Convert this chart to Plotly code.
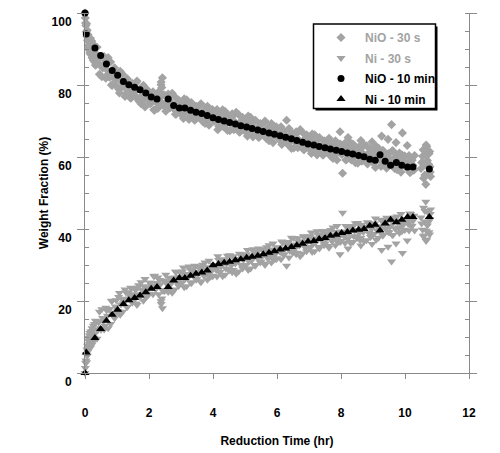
import plotly.graph_objects as go

# ---------------- data ----------------
# 30-s sampling (grey), part A: time (hr)
t30 = [
    0.00, 0.01, 0.02, 0.03, 0.04, 0.06, 0.08, 0.10, 0.12, 0.14,
    0.16, 0.18, 0.20, 0.22, 0.24, 0.26, 0.28, 0.30, 0.35, 0.40,
    0.45, 0.50, 0.55, 0.60, 0.65, 0.70, 0.75, 0.80, 0.85, 0.90,
    0.95, 1.00, 1.05, 1.10, 1.15, 1.20, 1.25, 1.30, 1.35, 1.40,
    1.45, 1.50, 1.55, 1.60, 1.65, 1.70, 1.75, 1.80, 1.85, 1.90,
    1.95, 2.00, 2.05, 2.10, 2.15, 2.20, 2.25, 2.30, 2.35, 2.38,
    2.40, 2.42, 2.45, 2.50, 2.55, 2.60, 2.65, 2.70, 2.75, 2.80,
    2.85, 2.90, 2.95, 3.00, 3.05, 3.10, 3.15, 3.20, 3.25, 3.30,
    3.35, 3.40, 3.45, 3.50, 3.55, 3.60, 3.65, 3.70, 3.75, 3.80,
    3.85, 3.90, 3.95, 4.00, 4.05, 4.10, 4.15, 4.20, 4.25, 4.30,
    4.35, 4.40, 4.45, 4.50, 4.55, 4.60, 4.65, 4.70, 4.75, 4.80,
    4.85, 4.90, 4.95, 5.00, 5.05, 5.10, 5.15, 5.20, 5.25, 5.30,
    5.35, 5.40, 5.45, 5.50, 5.55, 5.60, 5.65, 5.70, 5.75, 5.80,
    5.85, 5.90, 5.95, 6.00, 6.05, 6.10, 6.15, 6.20, 6.25, 6.30,
    6.35, 6.40, 6.45, 6.50, 6.55, 6.60, 6.65, 6.70, 6.75, 6.80,
    6.85, 6.90, 6.95, 7.00, 7.05, 7.10, 7.15, 7.20, 7.25, 7.30,
    7.35, 7.40, 7.45, 7.50, 7.55, 7.60, 7.65, 7.70, 7.75, 7.80,
    7.85, 7.90, 7.95, 7.97, 8.00, 8.05, 8.10, 8.15, 8.20, 8.22,
    8.25, 8.30, 8.35, 8.40, 8.45, 8.50, 8.55, 8.60, 8.62, 8.65,
    8.70, 8.75, 8.80, 8.85, 8.90, 8.95, 8.97, 9.00, 9.05, 9.10,
    9.15, 9.20, 9.25, 9.27, 9.30, 9.35, 9.40, 9.45, 9.47, 9.50,
    9.55, 9.58, 9.60, 9.65, 9.70, 9.72, 9.75, 9.80, 9.85, 9.90,
    9.92, 9.95, 10.00, 10.05, 10.07, 10.10, 10.15, 10.20, 10.25, 10.30,
    10.50, 10.55, 10.58, 10.60, 10.63, 10.65, 10.66, 10.68, 10.70, 10.72,
    10.75, 10.78, 10.80,
]
nio_30s = [
    100.0, 98.6, 97.2, 96.5, 94.8, 93.5, 92.4, 91.0, 93.2, 89.6,
    91.8, 88.5, 90.9, 87.6, 89.8, 86.9, 90.2, 86.4, 85.7, 88.1,
    83.0, 88.0, 84.7, 87.9, 81.9, 84.1, 82.3, 86.4, 79.9, 83.7,
    81.5, 83.2, 78.9, 83.8, 79.4, 80.6, 76.8, 81.6, 77.7, 79.3,
    76.5, 80.1, 78.1, 80.7, 76.3, 78.8, 74.8, 78.1, 75.9, 79.0,
    76.4, 78.0, 74.9, 76.1, 73.1, 76.6, 75.0, 78.1, 75.4, 80.8,
    79.3, 82.0, 74.3, 77.0, 74.6, 77.5, 73.6, 75.1, 73.6, 76.8,
    71.9, 74.9, 73.3, 74.8, 71.8, 76.2, 72.5, 73.7, 70.4, 74.8,
    71.4, 72.9, 70.4, 73.8, 72.0, 74.5, 70.5, 72.8, 69.3, 72.4,
    70.6, 73.4, 71.2, 73.0, 70.0, 71.4, 67.6, 72.0, 70.4, 73.1,
    68.8, 71.0, 67.4, 71.5, 69.3, 72.0, 67.6, 69.6, 68.4, 71.8,
    67.0, 70.0, 68.5, 70.0, 67.0, 71.4, 67.6, 68.8, 65.6, 70.0,
    66.6, 68.1, 65.6, 69.0, 67.2, 69.6, 65.7, 68.0, 64.5, 67.5,
    65.7, 68.6, 66.3, 68.1, 65.1, 66.4, 63.5, 67.1, 65.5, 70.2,
    63.8, 66.1, 62.4, 66.5, 64.3, 67.0, 62.6, 64.6, 63.4, 66.8,
    62.0, 65.0, 63.5, 65.0, 62.0, 66.4, 62.6, 63.8, 60.6, 65.0,
    61.6, 63.1, 60.6, 64.0, 62.2, 64.7, 60.8, 63.1, 59.6, 62.6,
    60.8, 63.7, 61.5, 67.0, 63.3, 55.5, 62.0, 59.2, 62.8, 65.4,
    61.2, 63.9, 59.6, 62.0, 58.4, 62.5, 60.3, 63.1, 64.6, 58.8,
    60.8, 59.7, 63.1, 58.3, 61.4, 60.0, 64.2, 61.5, 58.5, 63.0,
    59.3, 60.5, 57.4, 65.8, 61.8, 58.4, 60.0, 57.6, 64.9, 61.0,
    59.2, 69.0, 61.7, 57.7, 60.0, 64.0, 56.5, 59.6, 57.8, 60.6,
    66.7, 58.4, 60.2, 57.2, 63.2, 58.6, 55.7, 59.3, 57.7, 60.4,
    56.8, 60.2, 54.1, 61.8, 57.9, 52.4, 63.3, 62.9, 59.0, 55.4,
    60.9, 57.3, 54.6,
]
ni_30s = [
    0.0, 1.4, 2.8, 3.5, 5.2, 6.5, 7.6, 9.0, 6.8, 10.4,
    8.2, 11.5, 9.1, 12.4, 10.2, 13.1, 9.8, 13.6, 14.3, 11.9,
    17.0, 12.0, 15.3, 12.1, 18.1, 15.9, 17.7, 13.6, 20.1, 16.3,
    18.5, 16.8, 21.1, 16.2, 20.6, 19.4, 23.2, 18.4, 22.3, 20.7,
    23.5, 19.9, 21.9, 19.3, 23.7, 21.2, 25.2, 21.9, 24.1, 21.0,
    23.6, 22.0, 25.1, 23.9, 26.9, 23.4, 25.0, 21.9, 24.6, 19.2,
    20.7, 18.0, 25.7, 23.0, 25.4, 22.5, 26.4, 24.9, 26.4, 23.2,
    28.1, 25.1, 26.7, 25.2, 28.2, 23.8, 27.5, 26.3, 29.6, 25.2,
    28.6, 27.1, 29.6, 26.2, 28.0, 25.5, 29.5, 27.2, 30.7, 27.6,
    29.4, 26.6, 28.8, 27.0, 30.0, 28.6, 32.4, 28.0, 29.6, 26.9,
    31.2, 29.0, 32.6, 28.5, 30.7, 28.0, 32.4, 30.4, 31.6, 28.2,
    33.0, 30.0, 31.5, 30.0, 33.0, 28.6, 32.4, 31.2, 34.4, 30.0,
    33.4, 31.9, 34.4, 31.0, 32.8, 30.4, 34.3, 32.0, 35.5, 32.5,
    34.3, 31.4, 33.7, 31.9, 34.9, 33.6, 36.5, 32.9, 34.5, 29.8,
    36.2, 33.9, 37.6, 33.5, 35.7, 33.0, 37.4, 35.4, 36.6, 33.2,
    38.0, 35.0, 36.5, 35.0, 38.0, 33.6, 37.4, 36.2, 39.4, 35.0,
    38.4, 36.9, 39.4, 36.0, 37.8, 35.3, 39.2, 36.9, 40.4, 37.4,
    39.2, 36.3, 38.5, 33.0, 36.7, 44.5, 38.0, 40.8, 37.2, 34.6,
    38.8, 36.1, 40.4, 38.0, 41.6, 37.5, 39.7, 36.9, 35.4, 41.2,
    39.2, 40.3, 36.9, 41.7, 38.6, 40.0, 35.8, 38.5, 41.5, 37.0,
    40.7, 39.5, 42.6, 34.2, 38.2, 41.6, 40.0, 42.4, 35.1, 39.0,
    40.8, 31.0, 38.3, 42.3, 40.0, 36.0, 43.5, 40.4, 42.2, 39.4,
    33.3, 41.6, 39.8, 42.8, 36.8, 41.4, 44.3, 40.7, 42.3, 39.6,
    43.2, 39.8, 45.9, 38.2, 42.1, 47.6, 36.7, 37.1, 41.0, 44.6,
    39.1, 42.7, 45.4,
]

# 30-s sampling (grey), part B (in-between readings): time (hr)
t30b = [
    0.05, 0.07, 0.09, 0.11, 0.13, 0.15, 0.17, 0.19, 0.21, 0.23,
    0.25, 0.27, 0.29, 0.325, 0.375, 0.425, 0.475, 0.525, 0.575, 0.625,
    0.675, 0.725, 0.775, 0.825, 0.875, 0.925, 0.975, 1.025, 1.075, 1.125,
    1.175, 1.225, 1.275, 1.325, 1.375, 1.425, 1.475, 1.525, 1.575, 1.625,
    1.675, 1.725, 1.775, 1.825, 1.875, 1.925, 1.975, 2.025, 2.075, 2.125,
    2.175, 2.225, 2.275, 2.325, 2.375, 2.425, 2.475, 2.525, 2.575, 2.625,
    2.675, 2.725, 2.775, 2.825, 2.875, 2.925, 2.975, 3.025, 3.075, 3.125,
    3.175, 3.225, 3.275, 3.325, 3.375, 3.425, 3.475, 3.525, 3.575, 3.625,
    3.675, 3.725, 3.775, 3.825, 3.875, 3.925, 3.975, 4.025, 4.075, 4.125,
    4.175, 4.225, 4.275, 4.325, 4.375, 4.425, 4.475, 4.525, 4.575, 4.625,
    4.675, 4.725, 4.775, 4.825, 4.875, 4.925, 4.975, 5.025, 5.075, 5.125,
    5.175, 5.225, 5.275, 5.325, 5.375, 5.425, 5.475, 5.525, 5.575, 5.625,
    5.675, 5.725, 5.775, 5.825, 5.875, 5.925, 5.975, 6.025, 6.075, 6.125,
    6.175, 6.225, 6.275, 6.325, 6.375, 6.425, 6.475, 6.525, 6.575, 6.625,
    6.675, 6.725, 6.775, 6.825, 6.875, 6.925, 6.975, 7.025, 7.075, 7.125,
    7.175, 7.225, 7.275, 7.325, 7.375, 7.425, 7.475, 7.525, 7.575, 7.625,
    7.675, 7.725, 7.775, 7.825, 7.875, 7.925, 7.975, 8.025, 8.075, 8.125,
    8.175, 8.225, 8.275, 8.325, 8.375, 8.425, 8.475, 8.525, 8.575, 8.625,
    8.675, 8.725, 8.775, 8.825, 8.875, 8.925, 8.975, 9.025, 9.075, 9.125,
    9.175, 9.225, 9.275, 9.325, 9.375, 9.425, 9.475, 9.525, 9.575, 9.625,
    9.675, 9.725, 9.775, 9.825, 9.875, 9.925, 9.975, 10.025, 10.075, 10.125,
    10.175, 10.225, 10.275, 10.52, 10.57, 10.62, 10.67, 10.74, 10.77, 10.79,
]
nio_30s_b = [
    97.0, 95.2, 94.0, 90.2, 92.0, 88.9, 93.0, 89.5, 92.2, 88.3,
    91.4, 88.0, 89.2, 85.5, 90.5, 86.0, 87.6, 82.3, 85.6, 86.9,
    82.6, 87.6, 82.2, 80.0, 83.6, 84.8, 79.8, 82.8, 77.8, 81.0,
    83.0, 79.5, 77.6, 81.7, 78.3, 76.3, 80.5, 78.7, 76.9, 81.1,
    75.6, 78.8, 76.9, 79.9, 73.9, 77.3, 78.4, 74.9, 75.6, 78.1,
    73.0, 76.5, 73.5, 74.2, 80.1, 77.1, 77.3, 72.7, 75.5, 77.1,
    74.1, 77.7, 73.5, 71.9, 74.8, 75.8, 72.1, 75.0, 70.7, 73.9,
    75.9, 72.8, 71.2, 75.1, 72.0, 70.2, 74.1, 72.5, 70.9, 74.8,
    69.9, 72.9, 71.2, 74.1, 68.8, 72.0, 73.2, 70.0, 70.8, 73.2,
    68.6, 71.9, 68.9, 68.4, 72.7, 69.6, 71.2, 67.3, 70.1, 71.4,
    68.4, 72.4, 68.4, 66.9, 69.9, 71.0, 67.4, 70.1, 65.8, 69.0,
    71.0, 68.0, 66.3, 70.2, 67.2, 65.4, 69.3, 67.7, 66.1, 70.0,
    65.1, 68.1, 66.4, 69.3, 64.0, 67.2, 68.4, 65.2, 66.0, 68.4,
    63.8, 67.1, 64.1, 63.6, 67.9, 64.8, 66.4, 62.5, 65.3, 66.6,
    63.6, 67.6, 63.6, 62.1, 65.1, 66.2, 62.6, 65.3, 61.0, 64.2,
    66.2, 63.2, 61.5, 65.4, 62.4, 60.6, 64.5, 62.9, 61.3, 65.2,
    60.3, 63.3, 61.6, 64.5, 59.2, 62.4, 63.6, 60.7, 61.5, 63.9,
    59.3, 62.6, 59.7, 59.2, 63.6, 60.5, 62.1, 58.3, 61.1, 62.4,
    59.4, 63.4, 59.6, 58.1, 61.1, 62.2, 58.6, 61.4, 57.1, 60.4,
    62.4, 59.4, 57.8, 61.7, 58.7, 56.9, 60.8, 59.4, 57.8, 61.7,
    56.8, 59.8, 58.2, 61.1, 55.8, 59.1, 60.3, 57.2, 58.0, 60.4,
    55.8, 59.1, 56.3, 58.5, 62.0, 55.0, 60.5, 58.0, 61.5, 55.8,
]
ni_30s_b = [
    3.0, 4.8, 6.0, 9.8, 8.0, 11.1, 7.0, 10.5, 7.8, 11.7,
    8.6, 12.0, 10.8, 14.5, 9.5, 14.0, 12.4, 17.7, 14.4, 13.1,
    17.4, 12.4, 17.8, 20.0, 16.4, 15.2, 20.2, 17.2, 22.2, 19.0,
    17.0, 20.5, 22.4, 18.3, 21.7, 23.7, 19.5, 21.3, 23.1, 18.9,
    24.4, 21.2, 23.1, 20.1, 26.1, 22.7, 21.6, 25.1, 24.4, 21.9,
    27.0, 23.5, 26.5, 25.8, 19.9, 22.9, 22.7, 27.3, 24.5, 22.9,
    25.9, 22.3, 26.5, 28.1, 25.2, 24.2, 27.9, 25.0, 29.3, 26.1,
    24.1, 27.2, 28.8, 24.9, 28.0, 29.8, 25.9, 27.5, 29.1, 25.2,
    30.1, 27.1, 28.8, 25.9, 31.2, 28.0, 26.8, 30.0, 29.2, 26.8,
    31.4, 28.1, 31.1, 31.6, 27.3, 30.4, 28.8, 32.7, 29.9, 28.6,
    31.6, 27.6, 31.6, 33.1, 30.1, 29.0, 32.6, 29.9, 34.2, 31.0,
    29.0, 32.0, 33.7, 29.8, 32.8, 34.6, 30.7, 32.3, 33.9, 30.0,
    34.9, 31.9, 33.6, 30.7, 36.0, 32.8, 31.6, 34.8, 34.0, 31.6,
    36.2, 32.9, 35.9, 36.4, 32.1, 35.2, 33.6, 37.5, 34.7, 33.4,
    36.4, 32.4, 36.4, 37.9, 34.9, 33.8, 37.4, 34.7, 39.0, 35.8,
    33.8, 36.8, 38.5, 34.6, 37.6, 39.4, 35.5, 37.1, 38.7, 34.8,
    39.7, 36.7, 38.4, 35.5, 40.8, 37.6, 36.4, 39.3, 38.5, 36.1,
    40.7, 37.4, 40.3, 40.8, 36.4, 39.5, 37.9, 41.7, 38.9, 37.6,
    40.6, 36.6, 40.4, 41.9, 38.9, 37.8, 41.4, 38.6, 42.9, 39.6,
    37.6, 40.6, 42.2, 38.3, 41.3, 43.1, 39.2, 40.6, 42.2, 38.3,
    43.2, 40.2, 41.8, 38.9, 44.2, 40.9, 39.7, 42.8, 42.0, 39.6,
    44.2, 40.9, 43.7, 41.5, 38.0, 45.0, 39.5, 42.0, 38.5, 44.2,
]

# 10-min sampling (black): time (hr)
t10 = [
    0.0, 0.04, 0.31, 0.49, 0.67, 0.85, 1.02, 1.2, 1.37, 1.55,
    1.72, 1.9, 2.07, 2.25, 2.6, 2.77, 2.95, 3.12, 3.3, 3.47,
    3.65, 3.82, 4.0, 4.17, 4.35, 4.52, 4.7, 4.87, 5.05, 5.22,
    5.4, 5.57, 5.75, 5.92, 6.1, 6.27, 6.45, 6.62, 6.8, 6.97,
    7.15, 7.32, 7.5, 7.67, 7.85, 8.02, 8.2, 8.37, 8.55, 8.72,
    8.9, 9.07, 9.22, 9.38, 9.55, 9.73, 9.9, 10.08, 10.25, 10.76,
]
nio_10min = [
    100.0, 94.2, 90.3, 88.2, 85.8, 84.0, 82.7, 81.0, 80.1, 79.4,
    78.7, 77.8, 76.7, 76.1, 76.1, 74.3, 73.6, 73.6, 73.0, 72.4,
    72.1, 71.5, 70.9, 70.4, 70.0, 69.6, 69.2, 68.7, 68.3, 67.9,
    67.5, 67.1, 66.7, 66.3, 65.9, 65.5, 65.1, 64.6, 64.1, 63.6,
    63.3, 62.9, 62.6, 62.2, 61.9, 61.5, 61.1, 60.8, 60.4, 60.1,
    59.4, 59.1, 60.6, 58.8, 57.7, 58.5, 57.7, 57.2, 57.2, 56.7,
]
ni_10min = [
    0.0, 5.7, 9.7, 12.2, 14.5, 16.2, 17.6, 19.2, 20.2, 20.8,
    21.5, 22.4, 23.4, 23.9, 23.9, 25.7, 26.4, 26.4, 27.0, 27.6,
    27.9, 28.5, 29.9, 30.3, 30.6, 30.9, 31.3, 31.6, 32.0, 32.3,
    32.6, 33.0, 33.4, 33.8, 34.3, 34.6, 35.0, 35.5, 35.9, 36.5,
    36.7, 37.2, 37.5, 38.1, 38.4, 38.9, 39.2, 39.6, 39.8, 40.0,
    40.9, 41.2, 39.6, 41.5, 42.6, 41.9, 42.6, 43.3, 43.3, 43.3,
]

x_ticks = [0, 2, 4, 6, 8, 10, 12]
y_ticks = [0, 20, 40, 60, 80, 100]

assert len(t30) == len(nio_30s) == len(ni_30s)
assert len(t30b) == len(nio_30s_b) == len(ni_30s_b)
assert len(t10) == len(nio_10min) == len(ni_10min)

# ---------------- styling ----------------
GRAY = "#a3a3a3"
AXC = "#8a8a8a"
FONT = dict(family="Liberation Sans, Arial, sans-serif", size=12, color="black", weight="bold")

BODY = 8                      # default page margin around the plot div
W, H = 500 - BODY, 453 - BODY
ML, MR, MT, MB = 77, 31, 5, 80
PW, PH = W - ML - MR, H - MT - MB
X0S, Y1S = BODY + ML, BODY + H - MB   # screen px of plot left / bottom


def px(xs):
    return (xs - X0S) / PW


def py(ys):
    return (Y1S - ys) / PH


fig = go.Figure()
fig.add_trace(go.Scatter(
    x=t30 + t30b, y=nio_30s + nio_30s_b, mode="markers", cliponaxis=False,
    legendgroup="a", name=f'<span style="color:{GRAY}">NiO - 30 s</span>',
    marker=dict(symbol="diamond", size=7, color=GRAY, line=dict(width=0))))
fig.add_trace(go.Scatter(
    x=t30 + t30b, y=ni_30s + ni_30s_b, mode="markers", cliponaxis=False,
    legendgroup="b", name=f'<span style="color:{GRAY}">Ni - 30 s</span>',
    marker=dict(symbol="triangle-down", size=8, color=GRAY, line=dict(width=0))))
fig.add_trace(go.Scatter(
    x=t10, y=nio_10min, mode="markers", cliponaxis=False, legendgroup="c",
    name="NiO - 10 min",
    marker=dict(symbol="circle", size=7, color="black", line=dict(width=0))))
fig.add_trace(go.Scatter(
    x=t10, y=ni_10min, mode="markers", cliponaxis=False, legendgroup="d",
    name="Ni - 10 min",
    marker=dict(symbol="triangle-up", size=8, color="black", line=dict(width=0))))

shapes = [
    # legend drop shadow
    dict(type="rect", xref="paper", yref="paper", layer="above",
         x0=px(315.5), x1=px(437.5), y0=py(110.5), y1=py(26.5),
         fillcolor="black", line=dict(width=0)),
    # legend box
    dict(type="rect", xref="paper", yref="paper", layer="above",
         x0=px(313.5), x1=px(435.5), y0=py(108.5), y1=py(24),
         fillcolor="white", line=dict(color="black", width=1.5)),
]

fig.update_layout(
    width=W, height=H,
    margin=dict(l=ML, r=MR, t=MT, b=MB, autoexpand=False),
    paper_bgcolor="white", plot_bgcolor="white",
    font=FONT,
    showlegend=True,
    legend=dict(x=px(317), y=py(23), xanchor="left", yanchor="top",
                bgcolor="rgba(0,0,0,0)", borderwidth=0, font=FONT,
                itemwidth=38, tracegroupgap=1.5, traceorder="grouped"),
    shapes=shapes,
    xaxis=dict(range=[0, 12], tickmode="array", tickvals=x_ticks,
               ticks="outside", ticklen=5, tickwidth=1, tickcolor=AXC,
               showline=True, linecolor=AXC, linewidth=1,
               showgrid=False, zeroline=False, tickfont=FONT,
               ticklabelstandoff=24, automargin=False,
               title=dict(text="Reduction Time (hr)", font=FONT, standoff=17)),
    xaxis2=dict(range=[0, 12], overlaying="x", side="top", tickmode="array",
                tickvals=x_ticks, ticks="inside", ticklen=4, tickcolor="black",
                showline=True, linecolor="black", linewidth=1.5,
                showticklabels=False, showgrid=False, zeroline=False),
    yaxis=dict(range=[0, 100], tickmode="array", tickvals=y_ticks,
               ticks="outside", ticklen=7, tickwidth=1, tickcolor=AXC,
               showline=True, linecolor=AXC, linewidth=1, mirror="ticks",
               minor=dict(dtick=5, ticks="inside", ticklen=4, tickcolor=AXC),
               showgrid=False, zeroline=False, tickfont=FONT,
               ticklabelposition="outside bottom", ticklabeloverflow="allow",
               ticklabelstandoff=10, automargin=False,
               title=dict(text="Weight Fraction (%)", font=FONT, standoff=0)),
)

fig.write_html("out.html")
